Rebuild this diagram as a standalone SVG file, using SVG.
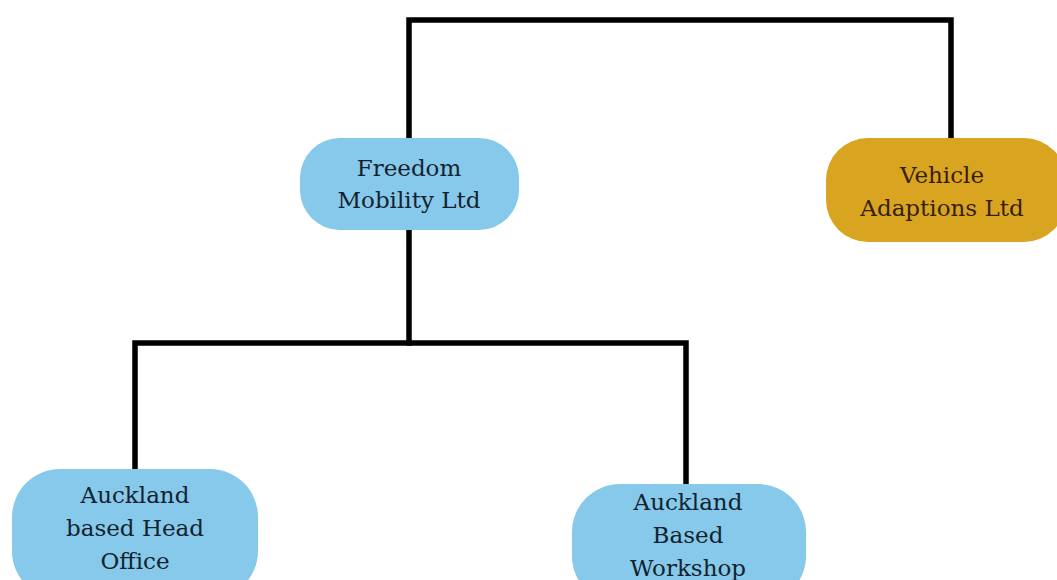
<svg xmlns="http://www.w3.org/2000/svg" width="1057" height="580" viewBox="0 0 1057 580">
<style>
.blue{fill:#86c9ea;}
.gold{fill:#d9a521;}
.t{font-family:"DejaVu Serif","Liberation Serif",serif;font-size:23px;text-anchor:middle;fill:#14222f;}
.tg{fill:#361f06;}
.c{stroke:#000;stroke-width:5.5;fill:none;stroke-linecap:square;}
</style>
<rect width="1057" height="580" fill="#fff"/>
<g id="connectors">
<path class="c" d="M409,138 V20 H951 V138"/>
<path class="c" d="M409,230 V343"/>
<path class="c" d="M135,469 V343 H686 V484"/>
</g>
<g id="freedom">
<rect class="blue" x="300" y="138" width="219" height="92" rx="40"/>
<text class="t" x="409" y="176">Freedom</text>
<text class="t" x="409" y="208">Mobility Ltd</text>
</g>
<g id="vehicle">
<rect class="gold" x="826" y="138" width="240" height="104" rx="42"/>
<text class="t tg" x="942" y="183">Vehicle</text>
<text class="t tg" x="942" y="216">Adaptions Ltd</text>
</g>
<g id="headoffice">
<rect class="blue" x="12" y="469" width="246" height="130" rx="48"/>
<text class="t" x="135" y="503">Auckland</text>
<text class="t" x="135" y="536">based Head</text>
<text class="t" x="135" y="569">Office</text>
</g>
<g id="workshop">
<rect class="blue" x="572" y="484" width="234" height="120" rx="48"/>
<text class="t" x="688" y="510">Auckland</text>
<text class="t" x="688" y="543">Based</text>
<text class="t" x="688" y="576">Workshop</text>
</g>
</svg>
